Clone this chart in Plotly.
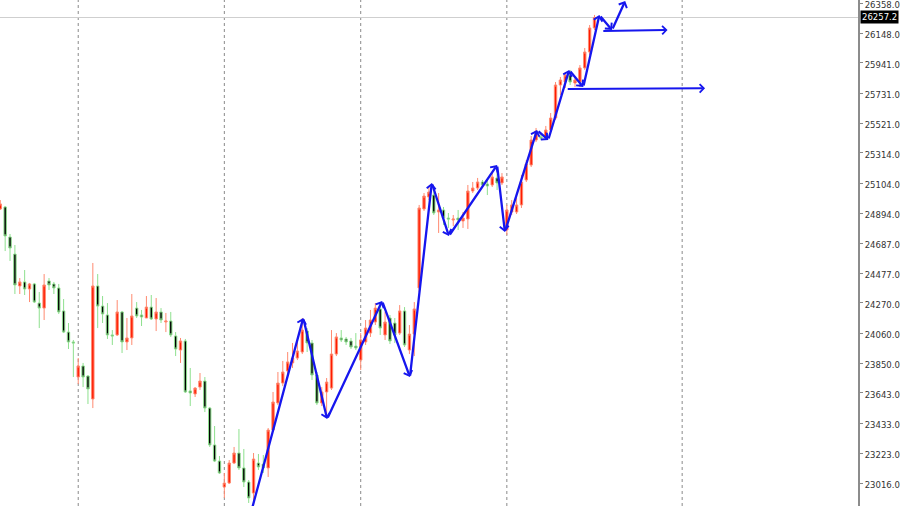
import plotly.graph_objects as go

# ---------------- data ----------------
bars = list(range(123))
opens = [24924, 24938, 24729, 24610, 24388, 24416, 24367, 24402, 24269, 24234,
         24423, 24402, 24374, 24214, 24067, 23998, 23754, 23831, 23761, 23601,
         24388, 24248, 24186, 24047, 24047, 24207, 23998, 24026, 24234, 24186,
         24165, 24241, 24158, 24207, 24137, 24144, 24040, 23942, 24005, 23657,
         23636, 23684, 23726, 23538, 23281, 23169, 22988, 23016, 23155, 23225,
         23121, 23023, 22946, 23155, 23148, 23121, 23385, 23573, 23712, 23796,
         23852, 23886, 23928, 24074, 23991, 23768, 23573, 23650, 23677, 23914,
         24026, 24019, 24005, 23970, 23872, 23998, 24060, 24137, 24228, 24047,
         24165, 24130, 24060, 24214, 23942, 24053, 24374, 24924, 25007, 25021,
         24903, 24917, 24861, 24847, 24861, 24840, 24854, 25049, 25070, 25112,
         25098, 25091, 25140, 25105, 24778, 24903, 24903, 24952, 25126, 25230,
         25404, 25425, 25425, 25474, 25557, 25787, 25808, 25857, 25801, 25808,
         25906, 26017, 26184]
highs = [24986, 24945, 24750, 24673, 24443, 24499, 24409, 24409, 24346, 24471,
         24443, 24416, 24402, 24297, 24130, 24012, 23886, 23852, 23768, 24548,
         24471, 24318, 24269, 24081, 24290, 24214, 24165, 24332, 24276, 24221,
         24318, 24325, 24304, 24234, 24200, 24207, 24067, 24026, 24019, 23817,
         23684, 23782, 23754, 23545, 23413, 23204, 23086, 23176, 23267, 23392,
         23253, 23037, 23225, 23218, 23211, 23399, 23650, 23789, 23866, 23928,
         23991, 23998, 24165, 24095, 24012, 23789, 23684, 23747, 24081, 24060,
         24081, 24033, 24026, 24060, 24060, 24151, 24221, 24269, 24269, 24207,
         24186, 24165, 24255, 24241, 24116, 24276, 24952, 25035, 25084, 25056,
         25035, 24938, 24896, 24882, 24917, 24903, 25091, 25112, 25140, 25126,
         25126, 25174, 25181, 25174, 24952, 24986, 25000, 25161, 25265, 25432,
         25488, 25446, 25502, 25592, 25808, 25843, 25878, 25892, 25850, 25926,
         26045, 26205, 26275]
lows = [24917, 24631, 24562, 24332, 24332, 24325, 24276, 24269, 24095, 24151,
        24360, 24332, 24193, 24060, 23949, 23754, 23705, 23684, 23566, 23538,
        24095, 24130, 24019, 23977, 24040, 23921, 23942, 23977, 24165, 24109,
        24165, 24151, 24074, 24130, 24067, 24033, 23900, 23852, 23643, 23552,
        23615, 23664, 23510, 23267, 23162, 23079, 22912, 23009, 23148, 23107,
        22988, 22877, 22863, 23107, 23086, 23058, 23371, 23559, 23691, 23775,
        23817, 23872, 23914, 23928, 23733, 23559, 23552, 23490, 23664, 23900,
        23998, 23977, 23949, 23942, 23803, 23977, 24033, 24116, 24047, 24012,
        23984, 23991, 24047, 23963, 23914, 23900, 24346, 24910, 24986, 24882,
        24757, 24812, 24792, 24805, 24778, 24792, 24785, 25035, 25056, 25070,
        25021, 25077, 25056, 25091, 24743, 24882, 24889, 24931, 25112, 25216,
        25390, 25404, 25404, 25460, 25544, 25718, 25766, 25787, 25773, 25773,
        25892, 25996, 26170]
closes = [24959, 24736, 24652, 24395, 24416, 24367, 24402, 24276, 24234, 24395,
          24395, 24374, 24207, 24067, 23998, 23991, 23831, 23754, 23671, 24388,
          24248, 24193, 24047, 24040, 24207, 23998, 24026, 24179, 24179, 24172,
          24241, 24158, 24207, 24151, 24144, 24047, 23949, 24005, 23650, 23643,
          23677, 23726, 23538, 23281, 23169, 23086, 23016, 23155, 23225, 23121,
          23023, 22912, 23183, 23128, 23121, 23385, 23580, 23712, 23789, 23859,
          23886, 23935, 24081, 23991, 23768, 23573, 23650, 23719, 23914, 24033,
          24012, 23998, 23963, 23956, 24012, 24095, 24151, 24234, 24095, 24137,
          24005, 24047, 24214, 23977, 24053, 24228, 24931, 25014, 25042, 24896,
          24917, 24861, 24854, 24854, 24847, 24861, 25049, 25070, 25112, 25091,
          25084, 25147, 25105, 25147, 24917, 24952, 24952, 25112, 25237, 25404,
          25467, 25418, 25474, 25557, 25787, 25822, 25857, 25808, 25822, 25906,
          26017, 26184, 26257.2]

last_price = 26257.2
price_ticks = [26358, 26148, 25941, 25731, 25521, 25314, 25104, 24894, 24687,
               24477, 24270, 24060, 23850, 23643, 23433, 23223, 23016]
separators = [16, 46, 74, 104, 140]

# hand-drawn arrowed zigzag (bar index, price)
zz_bar = [51.5, 62.2, 67.1, 78.4, 84.1, 88.6, 92.1, 102.0, 103.6, 110.2,
          112.5, 116.8, 119.7, 123.0, 125.6, 128.3]
zz_price = [22814, 24165, 23462, 24283, 23754, 25105, 24736, 25230, 24764, 25474,
            25404, 25892, 25773, 26275, 26170, 26372]
# horizontal arrowed lines
h_bar0 = [116.2, 123.5]
h_price0 = [25759, 26163]
h_bar1 = [144.7, 137.0]
h_price1 = [25764, 26170]

X_RANGE = [-0.06, 176.1]
Y_RANGE = [22856, 26379]
BLUE = "rgb(22,22,238)"

fig = go.Figure()
fig.add_trace(go.Candlestick(
    x=bars, open=opens, high=highs, low=lows, close=closes,
    increasing=dict(line=dict(color="#FF8A70", width=1), fillcolor="#FF1A00"),
    decreasing=dict(line=dict(color="#8EE08E", width=1), fillcolor="#000000"),
    whiskerwidth=0, showlegend=False, hoverinfo="skip",
))

shapes = []
for s in separators:
    shapes.append(dict(type="line", xref="x", yref="paper", x0=s, x1=s, y0=0, y1=1,
                       line=dict(color="#8a8a8a", width=1, dash="dot"), layer="below"))
shapes.append(dict(type="line", xref="paper", yref="y", x0=0, x1=1,
                   y0=last_price, y1=last_price,
                   line=dict(color="#cfcfcf", width=1), layer="below"))

annotations = []
for k in range(1, len(zz_bar)):
    annotations.append(dict(
        x=zz_bar[k], y=zz_price[k], ax=zz_bar[k - 1], ay=zz_price[k - 1],
        xref="x", yref="y", axref="x", ayref="y", text="", showarrow=True,
        arrowhead=4, arrowsize=0.75, arrowwidth=2.3, arrowcolor=BLUE,
        standoff=0, startstandoff=0))
for k in range(len(h_bar0)):
    annotations.append(dict(
        x=h_bar1[k], y=h_price1[k], ax=h_bar0[k], ay=h_price0[k],
        xref="x", yref="y", axref="x", ayref="y", text="", showarrow=True,
        arrowhead=4, arrowsize=0.8, arrowwidth=2.0, arrowcolor=BLUE,
        standoff=0, startstandoff=0))
annotations.append(dict(
    xref="paper", yref="y", x=1.0, y=last_price, xanchor="left", yanchor="middle",
    xshift=2, text=f"{last_price:.1f}", showarrow=False, bgcolor="#000000",
    borderpad=1, font=dict(family="DejaVu Sans", size=8.5, color="#ffffff")))

fig.update_layout(
    width=900, height=506,
    margin=dict(l=0, r=42, t=0, b=0),
    paper_bgcolor="#ffffff", plot_bgcolor="#ffffff",
    shapes=shapes, annotations=annotations,
    showlegend=False,
    xaxis=dict(range=X_RANGE, showgrid=False, zeroline=False, showticklabels=False,
               ticks="", showline=False, rangeslider=dict(visible=False), fixedrange=True),
    yaxis=dict(range=Y_RANGE, side="right", showgrid=False, zeroline=False,
               tickvals=price_ticks, ticktext=[f"{v:.1f}" for v in price_ticks],
               ticks="outside", ticklen=3, tickcolor="#888888", tickwidth=1,
               showline=True, linecolor="#8c8c8c", linewidth=2,
               ticklabelshift=2, ticklabeloverflow="allow",
               tickfont=dict(family="DejaVu Sans", size=8.5, color="#333333"),
               fixedrange=True),
)

fig.write_html("out.html", config={"displayModeBar": False},
               post_script="document.body.style.margin='0';")
